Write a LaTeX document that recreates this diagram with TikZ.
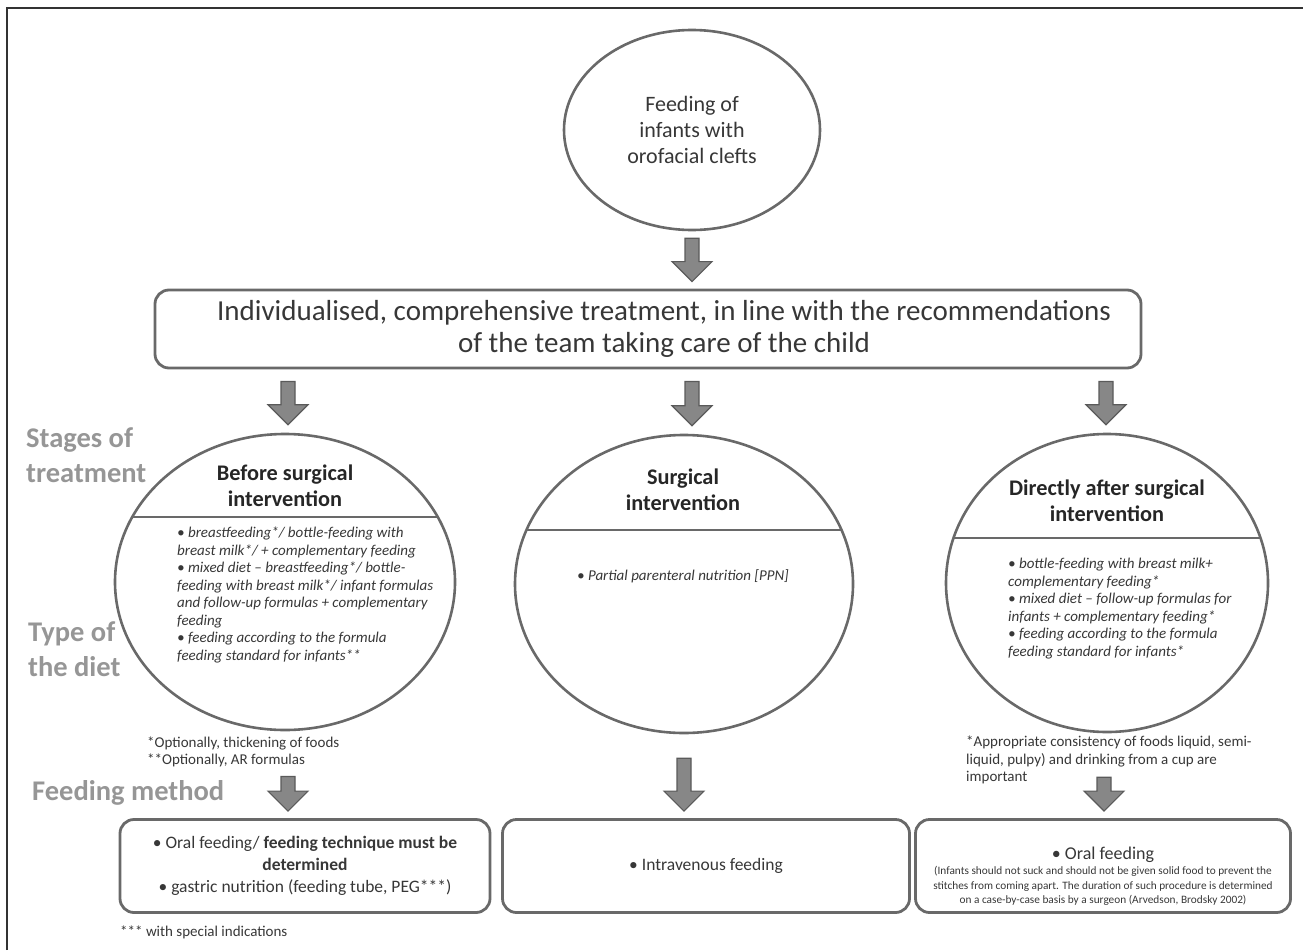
\documentclass[tikz,border=0pt]{standalone}
\usepackage{fontspec}
\setmainfont{Carlito}
\usetikzlibrary{shapes.geometric,calc}
\usepackage{xcolor}
\definecolor{edgegray}{RGB}{105,105,105}
\definecolor{labelgray}{RGB}{150,150,150}
\definecolor{txtgray}{RGB}{55,55,55}
\definecolor{arrfill}{RGB}{135,135,135}
\definecolor{arredge}{RGB}{90,90,90}

% block arrow: shaft at x of #1, from y of #1 down to y of #2
\newcommand\barrow[2]{%
    \draw[blockarr] let \p1=(#1), \p2=(#2) in
        ({\x1-7pt},\y1) -- ({\x1+7pt},\y1) -- ({\x1+7pt},{\y2+20pt})
        -- ({\x1+20pt},{\y2+20pt}) -- (\x1,\y2) -- ({\x1-20pt},{\y2+20pt})
        -- ({\x1-7pt},{\y2+20pt}) -- cycle;}

\begin{document}
\begin{tikzpicture}
    \tikzset{
        x={(1pt,0pt)},
        y={(0pt,-1pt)},
        oval/.style={ellipse,draw=edgegray,line width=2.6pt,inner sep=0pt},
        splitline/.style={draw=edgegray,line width=2.6pt},
        rbox/.style={rectangle,rounded corners=14pt,draw=edgegray,line width=2.8pt,
            inner sep=0pt,align=center,text=txtgray},
        blockarr/.style={fill=arrfill,draw=arredge,line width=1.2pt},
        stage/.style={font=\fontsize{28.5}{35}\selectfont\bfseries,text=labelgray,
            align=left,anchor=west,inner sep=0pt},
        title/.style={font=\fontsize{22.3}{26}\selectfont\bfseries,text=black!85,align=center},
        diet/.style={font=\fontsize{15}{17.5}\selectfont\itshape,text=txtgray,
            align=left,inner sep=0pt},
        note/.style={font=\fontsize{15}{17.5}\selectfont,text=txtgray,
            align=left,inner sep=0pt},
    }
    \useasboundingbox (0,0) rectangle (1303,950);
    % frame
    \draw[line width=2pt,black!80] (7,950) -- (7,8) -- (1303,8);

    \node[oval,minimum width=256pt,minimum height=200pt,text=txtgray,align=center,
        font=\fontsize{22}{26}\selectfont] (top) at (692,130)
        {Feeding of\\infants with\\orofacial clefts};
    \node[rbox,minimum width=986pt,minimum height=78pt] (treat) at (648,329) {};
    \node[align=center,text=txtgray,inner sep=0pt,font=\fontsize{29}{32}\selectfont]
        (treatT) at (664,329)
        {Individualised, comprehensive treatment, in line with the recommendations\\
         of the team taking care of the child};

    % stages
    \node[oval,minimum width=340pt,minimum height=296pt] (before) at (285,582) {};
    \node[oval,minimum width=338pt,minimum height=298pt] (surg) at (684,584) {};
    \node[oval,minimum width=322pt,minimum height=298pt] (after) at (1107,583) {};
    \begin{scope}
        \clip (before.center) ellipse [x radius=170pt, y radius=148pt];
        \draw[splitline] (100,517) -- (470,517);
    \end{scope}
    \begin{scope}
        \clip (surg.center) ellipse [x radius=169pt, y radius=149pt];
        \draw[splitline] (500,530) -- (870,530);
    \end{scope}
    \begin{scope}
        \clip (after.center) ellipse [x radius=161pt, y radius=149pt];
        \draw[splitline] (930,538) -- (1290,538);
    \end{scope}

    \node[title] (beforeT) at (285,486) {Before surgical\\intervention};
    \node[title] (surgT) at (683,490) {Surgical\\intervention};
    \node[title] (afterT) at (1107,501) {Directly after surgical\\intervention};

    \node[diet,anchor=north west] (beforeD) at (177,527)
        {• breastfeeding*/ bottle-feeding with\\
         breast milk*/ + complementary feeding\\
         • mixed diet – breastfeeding*/ bottle-\\
         feeding with breast milk*/ infant formulas\\
         and follow-up formulas + complementary\\
         feeding\\
         • feeding according to the formula\\
         feeding standard for infants**};
    \node[diet] (surgD) at (683,576) {• Partial parenteral nutrition [PPN]};
    \node[diet,anchor=north west] (afterD) at (1008,558)
        {• bottle-feeding with breast milk+\\
         complementary feeding*\\
         • mixed diet – follow-up formulas for\\
         infants + complementary feeding*\\
         • feeding according to the formula\\
         feeding standard for infants*};

    % side labels
    \node[stage] (stages) at (26,455) {Stages of\\treatment};
    \node[stage] (diettype) at (28,649) {Type of\\the diet};
    \node[stage] (method) at (32,793) {Feeding method};

    % footnotes
    \node[note,anchor=west] (fnA) at (147,752) {*Optionally, thickening of foods\\**Optionally, AR formulas};
    \node[note,anchor=west] (fnC) at (966,760)
        {*Appropriate consistency of foods liquid, semi-\\
         liquid, pulpy) and drinking from a cup are\\important};

    % feeding method
    \node[rbox,minimum width=370pt,minimum height=93pt,
        font=\fontsize{17.5}{22}\selectfont] (boxA) at (305,866)
        {• Oral feeding/ \textbf{feeding technique must be}\\
         \textbf{determined}\\
         • gastric nutrition (feeding tube, PEG***)};
    \node[rbox,minimum width=407pt,minimum height=93pt,
        font=\fontsize{17.5}{22}\selectfont] (boxB) at (706,866) {• Intravenous feeding};
    \node[rbox,minimum width=375pt,minimum height=93pt] (boxC) at (1103,866) {};
    \node[align=center,text=txtgray,inner sep=0pt,font=\fontsize{11.3}{14.5}\selectfont]
        (boxCt) at (1103,876)
        {{\fontsize{18}{20}\selectfont • Oral feeding}\\[1pt]
         (Infants should not suck and should not be given solid food to prevent the\\
         stitches from coming apart. The duration of such procedure is determined\\
         on a case-by-case basis by a surgeon (Arvedson, Brodsky 2002)};
    \node[note,anchor=west] (stars) at (120,932) {*** with special indications};

    % arrows
    \barrow{$(top.south)+(0,7)$}{$(treat.north)+(0,-7)$}
    \barrow{$(treat.south)+(-360,12)$}{$(before.north)+(0,-8)$}
    \barrow{$(treat.south)+(44,12)$}{$(surg.north)+(0,-8)$}
    \barrow{$(treat.south)+(458,12)$}{$(after.north)+(0,-8)$}
    \barrow{$(before.south |- fnA.south)+(3,9)$}{$(boxA.north)+(0,-7)$}
    \barrow{$(surg.south)+(0,24)$}{$(boxB.north)+(0,-7)$}
    \barrow{$(after.south)+(-3,44)$}{$(boxC.north)+(0,-7)$}
\end{tikzpicture}
\end{document}
